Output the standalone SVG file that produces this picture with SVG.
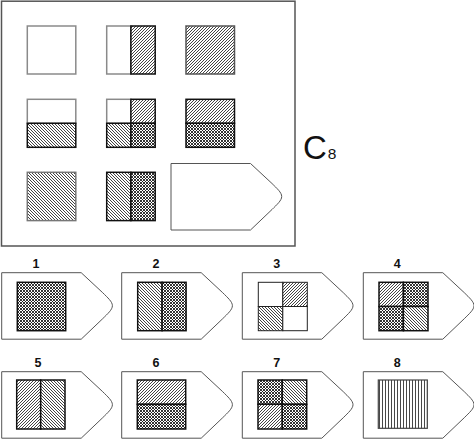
<svg xmlns="http://www.w3.org/2000/svg" width="474" height="439" viewBox="0 0 474 439">
<style>
.frame{fill:#fff;stroke:#555;stroke-width:1.5}
.box{fill:#fff;stroke:#555;stroke-width:1}
.g{stroke:#8a8a8a;stroke-width:1.5}
.k{stroke:#111;stroke-width:1.5}
.e{fill:#fff}
.f{fill:url(#fwd)}
.b{fill:url(#bwd)}
.x{fill:url(#cross)}
.v{fill:url(#vert)}
.num{font-family:"Liberation Sans",Arial,sans-serif;font-weight:bold;font-size:12.5px;fill:#111;text-anchor:middle}
</style>
<defs>
<pattern id="fwd" width="3" height="3" patternUnits="userSpaceOnUse">
<rect width="3" height="3" fill="#fff"/>
<path d="M-1,1 l2,-2 M0,3 l3,-3 M2,4 l2,-2" stroke="#222" stroke-width="0.85"/>
</pattern>
<pattern id="bwd" width="3" height="3" patternUnits="userSpaceOnUse">
<rect width="3" height="3" fill="#fff"/>
<path d="M-1,2 l2,2 M0,0 l3,3 M2,-1 l2,2" stroke="#222" stroke-width="0.85"/>
</pattern>
<pattern id="cross" width="3" height="3" patternUnits="userSpaceOnUse">
<rect width="3" height="3" fill="#fff"/>
<path d="M-1,1 l2,-2 M0,3 l3,-3 M2,4 l2,-2 M-1,2 l2,2 M0,0 l3,3 M2,-1 l2,2" stroke="#111" stroke-width="0.85"/>
</pattern>
<pattern id="vert" width="3" height="3" patternUnits="userSpaceOnUse">
<rect width="3" height="3" fill="#fff"/>
<path d="M1.5,0 v3" stroke="#333" stroke-width="0.9"/>
</pattern>
<path id="tag" d="M0,0 H79.5 L101,20 C106,25 110.7,29 110.7,33 C110.7,37 106,41 101,46 L79.5,66.5 H0 Z"/>
</defs>

<rect class="frame" x="1.5" y="1.2" width="293.5" height="244.8"/>

<g id="m11"><rect class="e g" x="27.3" y="26" width="48.5" height="48"/></g>
<g id="m12">
<rect class="e g" x="106.7" y="26" width="24.2" height="48"/>
<rect class="f k" x="130.9" y="26" width="24.3" height="48"/>
</g>
<g id="m13"><rect class="f" x="186" y="26" width="48.5" height="48" stroke="#555" stroke-width="1.5"/></g>

<g id="m21">
<rect class="e g" x="27.3" y="99.3" width="48.5" height="24"/>
<rect class="b k" x="27.3" y="123.3" width="48.5" height="24"/>
</g>
<g id="m22">
<rect class="e g" x="106.7" y="99.3" width="24.2" height="24"/>
<rect class="f k" x="130.9" y="99.3" width="24.3" height="24"/>
<rect class="b k" x="106.7" y="123.3" width="24.2" height="24"/>
<rect class="x k" x="130.9" y="123.3" width="24.3" height="24"/>
</g>
<g id="m23">
<rect class="f k" x="186" y="99.3" width="48.5" height="24"/>
<rect class="x k" x="186" y="123.3" width="48.5" height="24"/>
</g>

<g id="m31"><rect class="b" x="27.3" y="172.3" width="48.5" height="48.3" stroke="#777" stroke-width="1.5"/></g>
<g id="m32">
<rect class="b k" x="106.7" y="172.3" width="24.2" height="48.3"/>
<rect class="x k" x="130.9" y="172.3" width="24.3" height="48.3"/>
</g>
<g id="m33"><use href="#tag" class="box" transform="translate(171,163.5)"/></g>

<g id="label-c8"><text x="303" y="159.3" font-family="'Liberation Sans',Arial,sans-serif" font-size="33" fill="#111">C<tspan font-size="15.5" dx="1">8</tspan></text></g>

<g id="opt1">
<text class="num" x="36" y="267.5">1</text>
<use href="#tag" class="box" transform="translate(1.7,272.7)"/>
<rect class="x k" x="17.3" y="282.3" width="48.4" height="48.4"/>
</g>
<g id="opt2">
<text class="num" x="156" y="267.5">2</text>
<use href="#tag" class="box" transform="translate(121.7,272.7)"/>
<rect class="b k" x="137.7" y="282.3" width="24.4" height="48.4"/>
<rect class="x k" x="162.1" y="282.3" width="24" height="48.4"/>
</g>
<g id="opt3">
<text class="num" x="276.7" y="267.5">3</text>
<use href="#tag" class="box" transform="translate(242.3,272.7)"/>
<rect class="e" x="258.3" y="282.3" width="24.5" height="24.2" stroke="#222" stroke-width="1"/>
<rect class="f" x="282.8" y="282.3" width="24.5" height="24.2" stroke="#222" stroke-width="1"/>
<rect class="b" x="258.3" y="306.5" width="24.5" height="24.2" stroke="#222" stroke-width="1"/>
<rect class="e" x="282.8" y="306.5" width="24.5" height="24.2" stroke="#222" stroke-width="1"/>
</g>
<g id="opt4">
<text class="num" x="397.3" y="267.5">4</text>
<use href="#tag" class="box" transform="translate(363.3,272.7)"/>
<rect class="f k" x="379" y="282.3" width="24.4" height="24.2"/>
<rect class="x k" x="403.4" y="282.3" width="24.6" height="24.2"/>
<rect class="x k" x="379" y="306.5" width="24.4" height="24.2"/>
<rect class="b k" x="403.4" y="306.5" width="24.6" height="24.2"/>
</g>

<g id="opt5">
<text class="num" x="38" y="367">5</text>
<use href="#tag" class="box" transform="translate(1.7,371.7)"/>
<rect class="f k" x="16.7" y="380" width="24" height="49"/>
<rect class="b k" x="40.7" y="380" width="24.3" height="49"/>
</g>
<g id="opt6">
<text class="num" x="156" y="367">6</text>
<use href="#tag" class="box" transform="translate(121.7,371.7)"/>
<rect class="f k" x="137.3" y="380" width="48.4" height="24.3"/>
<rect class="x k" x="137.3" y="404.3" width="48.4" height="24.7"/>
</g>
<g id="opt7">
<text class="num" x="276.7" y="367">7</text>
<use href="#tag" class="box" transform="translate(242.3,371.7)"/>
<rect class="x k" x="258" y="380" width="24.3" height="24.3"/>
<rect class="b k" x="282.3" y="380" width="24.4" height="24.3"/>
<rect class="f k" x="258" y="404.3" width="24.3" height="24.7"/>
<rect class="x k" x="282.3" y="404.3" width="24.4" height="24.7"/>
</g>
<g id="opt8">
<text class="num" x="397.3" y="367">8</text>
<use href="#tag" class="box" transform="translate(363.3,371.7)"/>
<rect class="v" x="378.3" y="380" width="49" height="48.3" stroke="#444" stroke-width="1.2"/>
</g>
</svg>
